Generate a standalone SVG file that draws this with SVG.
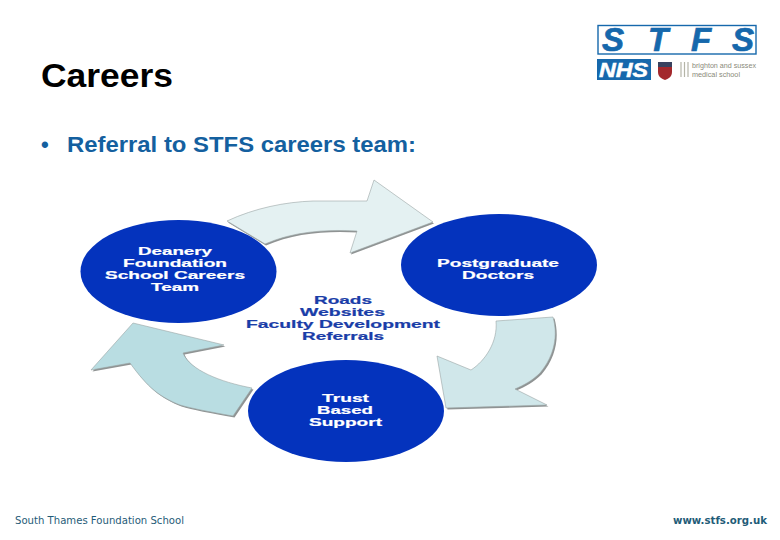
<svg xmlns="http://www.w3.org/2000/svg" width="780" height="540" viewBox="0 0 780 540">
<style>
text{font-family:"Liberation Sans",Arial,sans-serif}
.node{fill:#0433bd}
.w{fill:#fff;font-weight:700;font-size:11px;stroke:#fff;stroke-width:.2px}
.c{fill:#1a3da8;font-weight:700;font-size:11px;stroke:#1a3da8;stroke-width:.2px}
.sh{fill:#8f9393}
.foot{font-family:"DejaVu Sans",Verdana,sans-serif;fill:#1f5c78;font-size:10px}
.lg{font-style:italic;font-weight:700;font-size:33px;fill:#1668ac;stroke:#1668ac;stroke-width:.7px}
.bl{font-size:22px;font-weight:700;fill:#14609f}
.sm{font-size:7.5px;fill:#8a8a7a}
</style>
<defs>
<path id="a1" d="M227 221C255 208 285 202 313 201L367 201L374 180L433 222L350 253L357 231C325 229 292 232 265 244Z"/>
<path id="a2" d="M496 321L553 317C558 335 555 355 540 373C532 381 524 385 515 389L547 405L446 408L437 356L471 370C485 361 498 342 496 321Z"/>
<path id="a3" d="M133 323L224 345L183 353C190 370 220 382 252 388L233 416C210 412 190 408 180 405C160 397 148 388 130 363L91 370Z"/>
</defs>
<rect width="780" height="540" fill="#fff"/>
<text id="title" x="41" y="87" font-size="33" font-weight="700" fill="#000" textLength="132" lengthAdjust="spacingAndGlyphs">Careers</text>
<text id="bullet-mark" class="bl" x="41" y="152">•</text>
<text id="bullet" class="bl" x="67" y="152" textLength="349" lengthAdjust="spacingAndGlyphs">Referral to STFS careers team:</text>
<g id="connectors">
<use href="#a1" class="sh" x="1" y="1.5"/><use href="#a1" fill="#e4f1f2" stroke="#9aa5a5" stroke-width=".6"/>
<use href="#a2" class="sh" x="1.5" y="1.5"/><use href="#a2" fill="#d0e7ea" stroke="#9aa5a5" stroke-width=".6"/>
<use href="#a3" class="sh" x="1.5" y="1.5"/><use href="#a3" fill="#b9dde2" stroke="#9aa5a5" stroke-width=".6"/>
</g>
<g id="deanery">
<ellipse class="node" cx="178.5" cy="271.5" rx="98" ry="51.5"/>
<text class="w" x="138" y="255" textLength="74" lengthAdjust="spacingAndGlyphs">Deanery</text>
<text class="w" x="123" y="267" textLength="104" lengthAdjust="spacingAndGlyphs">Foundation</text>
<text class="w" x="105" y="279" textLength="140" lengthAdjust="spacingAndGlyphs">School Careers</text>
<text class="w" x="151" y="291" textLength="48" lengthAdjust="spacingAndGlyphs">Team</text>
</g>
<g id="postgraduate">
<ellipse class="node" cx="499" cy="265" rx="98" ry="51"/>
<text class="w" x="437" y="267" textLength="122" lengthAdjust="spacingAndGlyphs">Postgraduate</text>
<text class="w" x="462" y="279" textLength="72" lengthAdjust="spacingAndGlyphs">Doctors</text>
</g>
<g id="trust">
<ellipse class="node" cx="346" cy="411" rx="98" ry="51"/>
<text class="w" x="322" y="402" textLength="47" lengthAdjust="spacingAndGlyphs">Trust</text>
<text class="w" x="317" y="414" textLength="56" lengthAdjust="spacingAndGlyphs">Based</text>
<text class="w" x="309" y="426" textLength="73" lengthAdjust="spacingAndGlyphs">Support</text>
</g>
<g id="centre">
<text class="c" x="314" y="304" textLength="58" lengthAdjust="spacingAndGlyphs">Roads</text>
<text class="c" x="300" y="316" textLength="85" lengthAdjust="spacingAndGlyphs">Websites</text>
<text class="c" x="246" y="328" textLength="194" lengthAdjust="spacingAndGlyphs">Faculty Development</text>
<text class="c" x="302" y="340" textLength="82" lengthAdjust="spacingAndGlyphs">Referrals</text>
</g>
<g id="logo">
<rect x="598" y="25.500" width="158" height="28.500" fill="#fff" stroke="#1668ac" stroke-width="1.400"/>
<text class="lg" x="602" y="51">S</text><text class="lg" x="648" y="51">T</text><text class="lg" x="691" y="51">F</text><text class="lg" x="732" y="51">S</text>
<rect x="597" y="59" width="54" height="21" fill="#1668ac"/>
<text x="599" y="77" font-size="20" font-weight="700" font-style="italic" fill="#fff" stroke="#fff" stroke-width=".5" textLength="49" lengthAdjust="spacingAndGlyphs">NHS</text>
<path d="M658 62H672V72C672 77 668 79 665 80C662 79 658 77 658 72Z" fill="#a3282c"/>
<rect x="658" y="62" width="14" height="5" fill="#39425f"/>
<path d="M681 62V77M684.500 62V77M688 62V77" stroke="#b5b5a8" stroke-width="1.200" fill="none"/>
<text class="sm" x="692" y="67.500" textLength="64" lengthAdjust="spacingAndGlyphs">brighton and sussex</text>
<text class="sm" x="692" y="76.500" textLength="48" lengthAdjust="spacingAndGlyphs">medical school</text>
</g>
<text id="footer-left" class="foot" x="15" y="524" textLength="169" lengthAdjust="spacingAndGlyphs">South Thames Foundation School</text>
<text id="footer-right" class="foot" x="673" y="524" font-weight="700" fill="#174f70" textLength="94" lengthAdjust="spacingAndGlyphs">www.stfs.org.uk</text>
</svg>
